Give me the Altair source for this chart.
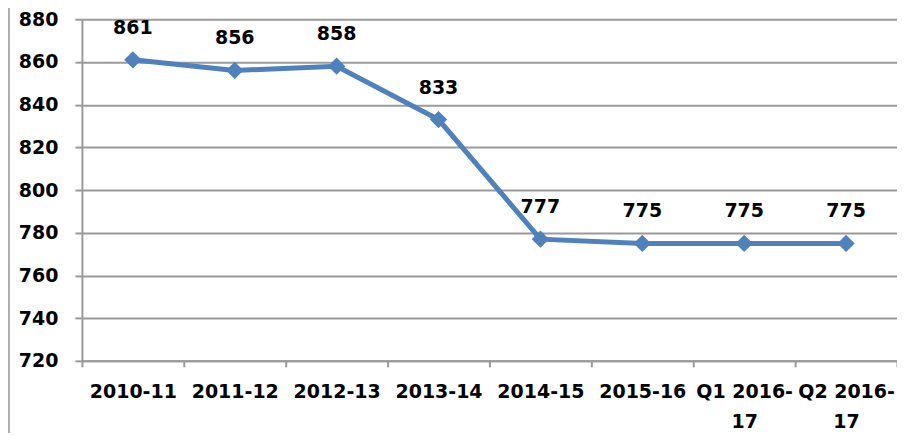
import altair as alt
import pandas as pd

years = ["2010-11", "2011-12", "2012-13", "2013-14", "2014-15", "2015-16",
         "Q1 2016-17", "Q2 2016-17"]
values = [861, 856, 858, 833, 777, 775, 775, 775]

df = pd.DataFrame({"year": years, "value": values})

FONT = "DejaVu Sans"
BLUE = "#4F81BD"
GRID = "#9a9a9a"
FS = 19

x_enc = alt.X(
    "year:N",
    sort=years,
    title=None,
    scale=alt.Scale(paddingInner=0, paddingOuter=0),
    axis=alt.Axis(
        labelAngle=0,
        labelFont=FONT,
        labelFontWeight="bold",
        labelFontSize=FS,
        labelColor="#000000",
        labelPadding=16,
        labelLineHeight=30,
        labelExpr="indexof(datum.label,'Q')==0 ? [slice(datum.label,0,8), slice(datum.label,8)] : datum.label",
        tickBand="extent",
        tickSize=6,
        tickColor=GRID,
        tickWidth=2,
        domainColor=GRID,
        domainWidth=2,
        grid=False,
        labelOverlap=False,
    ),
)

y_enc = alt.Y(
    "value:Q",
    title=None,
    scale=alt.Scale(domain=[720, 880], zero=False, nice=False),
    axis=alt.Axis(
        values=list(range(720, 881, 20)),
        labelFont=FONT,
        labelFontWeight="bold",
        labelFontSize=FS,
        labelColor="#000000",
        labelPadding=17,
        tickSize=7,
        tickColor=GRID,
        tickWidth=2,
        domainColor=GRID,
        domainWidth=2,
        gridColor=GRID,
        gridWidth=2,
    ),
)

base = alt.Chart(df).encode(x=x_enc, y=y_enc)

line = base.mark_line(color=BLUE, strokeWidth=5)
points = base.mark_point(shape="diamond", filled=True, size=300, color=BLUE, opacity=1)
labels = base.mark_text(
    font=FONT, fontWeight="bold", fontSize=FS, color="#000000",
    baseline="middle", dy=-32
).encode(text="value:Q")

frame = alt.Chart(df).mark_rule(color="#b0b0b0", strokeWidth=2).encode(
    x=alt.value(-73), y=alt.value(-11), y2=alt.value(430)
)

chart = alt.layer(frame, line, points, labels).properties(
    width=816,
    height=342,
    padding={"left": 74, "top": 11, "right": 0, "bottom": 72},
    autosize=alt.AutoSizeParams(type="none"),
).configure_view(stroke=None)

chart.save("out.html", embed_options={"renderer": "svg", "actions": False})
